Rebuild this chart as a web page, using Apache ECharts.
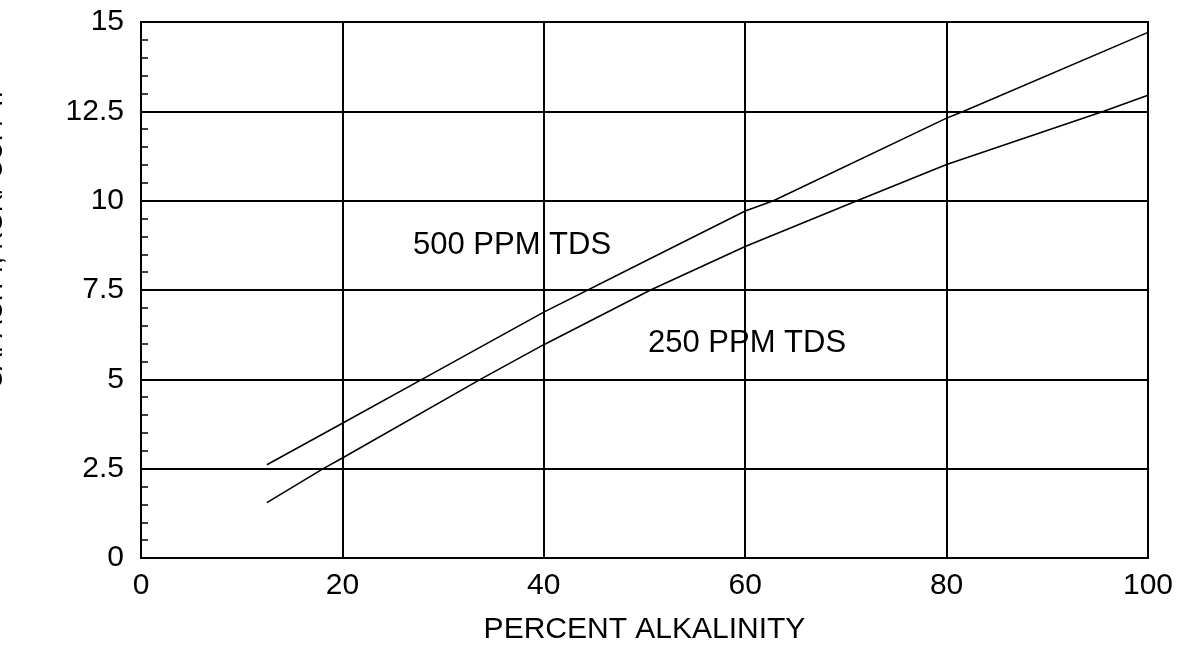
<!DOCTYPE html>
<html>
<head>
<meta charset="utf-8">
<script src="https://cdn.jsdelivr.net/npm/echarts@6/dist/echarts.min.js"></script>
<style>
html,body{margin:0;padding:0;background:#fff;}
#chart{width:1187px;height:650px;}
</style>
</head>
<body>
<div id="chart"></div>
<script>
// Data
const alk500 = [12.5, 20, 27.9, 40, 50, 60, 62.8, 80, 81.7, 100];
const val500 = [2.61, 3.77, 5.0, 6.88, 8.3, 9.71, 10.0, 12.31, 12.5, 14.71];
const alk250 = [12.5, 18.1, 20, 33.7, 40, 50.6, 60, 71.1, 80, 95.6, 100];
const val250 = [1.55, 2.5, 2.8, 5.0, 5.97, 7.5, 8.72, 10.0, 11.01, 12.5, 12.95];
const xTicks = [0, 20, 40, 60, 80, 100];
const yTicks = [0, 2.5, 5, 7.5, 10, 12.5, 15];
const seriesNames = ['500 PPM TDS', '250 PPM TDS'];
const xTitle = 'PERCENT ALKALINITY';
const yTitle = 'CAPACITY, KGR/ CU. FT.';

const FONT = '"Liberation Sans", Arial, Helvetica, sans-serif';
const pairs = (xs, ys) => xs.map((x, i) => [x, ys[i]]);

const chart = echarts.init(document.getElementById('chart'), null, {renderer: 'canvas'});
chart.setOption({
  backgroundColor: '#fff',
  animation: false,
  grid: {left: 141, right: 39, top: 22, bottom: 89.5, show: true, borderColor: '#000', borderWidth: 2, backgroundColor: 'transparent'},
  xAxis: {
    type: 'value', min: xTicks[0], max: xTicks[xTicks.length - 1], interval: 20,
    axisLine: {show: true, lineStyle: {color: '#000', width: 2}},
    axisTick: {show: false},
    splitLine: {show: true, lineStyle: {color: '#000', width: 2}},
    axisLabel: {color: '#000', fontSize: 30, fontFamily: FONT, margin: 13},
    name: xTitle, nameLocation: 'middle', nameGap: 57,
    nameTextStyle: {color: '#000', fontSize: 30, fontFamily: FONT}
  },
  yAxis: {
    type: 'value', min: yTicks[0], max: yTicks[yTicks.length - 1], interval: 2.5,
    axisLine: {show: true, lineStyle: {color: '#000', width: 2}},
    axisTick: {show: false, inside: true},
    minorTick: {show: true, splitNumber: 5, length: 7, lineStyle: {color: '#000', width: 1.5}},
    splitLine: {show: true, lineStyle: {color: '#000', width: 2}},
    axisLabel: {color: '#000', fontSize: 30, fontFamily: FONT, margin: 17,
      formatter: v => String(v)}
  },
  graphic: [
    {type: 'text', x: 413, y: 245, style: {text: seriesNames[0], font: '31px ' + FONT, fill: '#000', textAlign: 'left', textVerticalAlign: 'middle'}},
    {type: 'text', x: 648, y: 343, style: {text: seriesNames[1], font: '31px ' + FONT, fill: '#000', textAlign: 'left', textVerticalAlign: 'middle'}},
    {type: 'text', x: -5, y: 240, rotation: Math.PI / 2, style: {text: yTitle, font: '26px ' + FONT, fill: '#000', textAlign: 'center', textVerticalAlign: 'middle'}}
  ],
  series: [
    {name: seriesNames[0], type: 'line', data: pairs(alk500, val500), showSymbol: false, symbol: 'none', lineStyle: {color: '#000', width: 1.6}, z: 5},
    {name: seriesNames[1], type: 'line', data: pairs(alk250, val250), showSymbol: false, symbol: 'none', lineStyle: {color: '#000', width: 1.6}, z: 5}
  ]
});
</script>
</body>
</html>
